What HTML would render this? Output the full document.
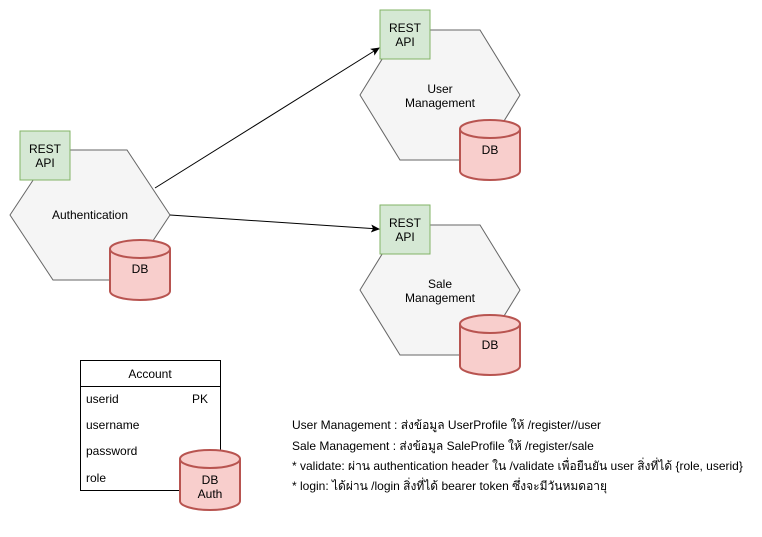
<!DOCTYPE html>
<html><head><meta charset="utf-8"><style>
body{margin:0;background:#fff;}
svg text{font-family:"Liberation Sans","Noto Sans CJK SC",sans-serif;font-size:12px;fill:#000;}
</style></head><body>
<svg width="762" height="532" xmlns="http://www.w3.org/2000/svg">
<defs><marker id="a" markerWidth="10" markerHeight="10" refX="8" refY="4" orient="auto" markerUnits="userSpaceOnUse"><path d="M0,0 L9,4 L0,8 L2,4 Z" fill="#000"/></marker></defs>
<!-- Auth -->
<polygon points="10,215 53,150 127,150 170,215 127,280 53,280" fill="#f5f5f5" stroke="#666"/>
<text x="90" y="219" text-anchor="middle">Authentication</text>
<rect x="20" y="131" width="50" height="49" fill="#d5e8d4" stroke="#82b366"/>
<text x="45" y="153" text-anchor="middle">REST</text><text x="45" y="167" text-anchor="middle">API</text>
<g fill="#f8cecc" stroke="#b85450" stroke-width="2">
<path d="M110,249 v42 a30,9 0 0 0 60,0 v-42"/><ellipse cx="140" cy="249" rx="30" ry="9"/></g>
<text x="140" y="273" text-anchor="middle">DB</text>
<!-- User -->
<polygon points="360,95 400,30 480,30 520,95 480,160 400,160" fill="#f5f5f5" stroke="#666"/>
<text x="440" y="93" text-anchor="middle">User</text><text x="440" y="107" text-anchor="middle">Management</text>
<rect x="380" y="10" width="50" height="49" fill="#d5e8d4" stroke="#82b366"/>
<text x="405" y="32" text-anchor="middle">REST</text><text x="405" y="46" text-anchor="middle">API</text>
<g fill="#f8cecc" stroke="#b85450" stroke-width="2">
<path d="M460,129 v42 a30,9 0 0 0 60,0 v-42"/><ellipse cx="490" cy="129" rx="30" ry="9"/></g>
<text x="490" y="154" text-anchor="middle">DB</text>
<!-- Sale -->
<polygon points="360,290 400,225 480,225 520,290 480,355 400,355" fill="#f5f5f5" stroke="#666"/>
<text x="440" y="288" text-anchor="middle">Sale</text><text x="440" y="302" text-anchor="middle">Management</text>
<rect x="380" y="205" width="50" height="49" fill="#d5e8d4" stroke="#82b366"/>
<text x="405" y="227" text-anchor="middle">REST</text><text x="405" y="241" text-anchor="middle">API</text>
<g fill="#f8cecc" stroke="#b85450" stroke-width="2">
<path d="M460,324 v42 a30,9 0 0 0 60,0 v-42"/><ellipse cx="490" cy="324" rx="30" ry="9"/></g>
<text x="490" y="349" text-anchor="middle">DB</text>
<!-- arrows -->
<line x1="155" y1="188" x2="379" y2="48" stroke="#000" marker-end="url(#a)"/>
<line x1="170" y1="215" x2="379" y2="229" stroke="#000" marker-end="url(#a)"/>
<!-- table -->
<rect x="80.5" y="360.5" width="140" height="130" fill="#fff" stroke="#000"/>
<line x1="80" y1="386.5" x2="220" y2="386.5" stroke="#000"/>
<text x="150" y="378" text-anchor="middle">Account</text>
<text x="86" y="403">userid</text><text x="192" y="403">PK</text>
<text x="86" y="429">username</text>
<text x="86" y="455">password</text>
<text x="86" y="482">role</text>
<g fill="#f8cecc" stroke="#b85450" stroke-width="2">
<path d="M180,459 v42 a30,9 0 0 0 60,0 v-42"/><ellipse cx="210" cy="459" rx="30" ry="9"/></g>
<text x="210" y="484" text-anchor="middle">DB</text><text x="210" y="498" text-anchor="middle">Auth</text>
<!-- notes -->
<text x="292" y="429">User Management : ส่งข้อมูล UserProfile ให้ /register//user</text>
<text x="292" y="450">Sale Management : ส่งข้อมูล SaleProfile ให้ /register/sale</text>
<text x="292" y="470">* validate: ผ่าน authentication header ใน /validate เพื่อยืนยัน user สิ่งที่ได้ {role, userid}</text>
<text x="292" y="490">* login: ได้ผ่าน /login สิ่งที่ได้ bearer token ซึ่งจะมีวันหมดอายุ</text>
</svg>
</body></html>
